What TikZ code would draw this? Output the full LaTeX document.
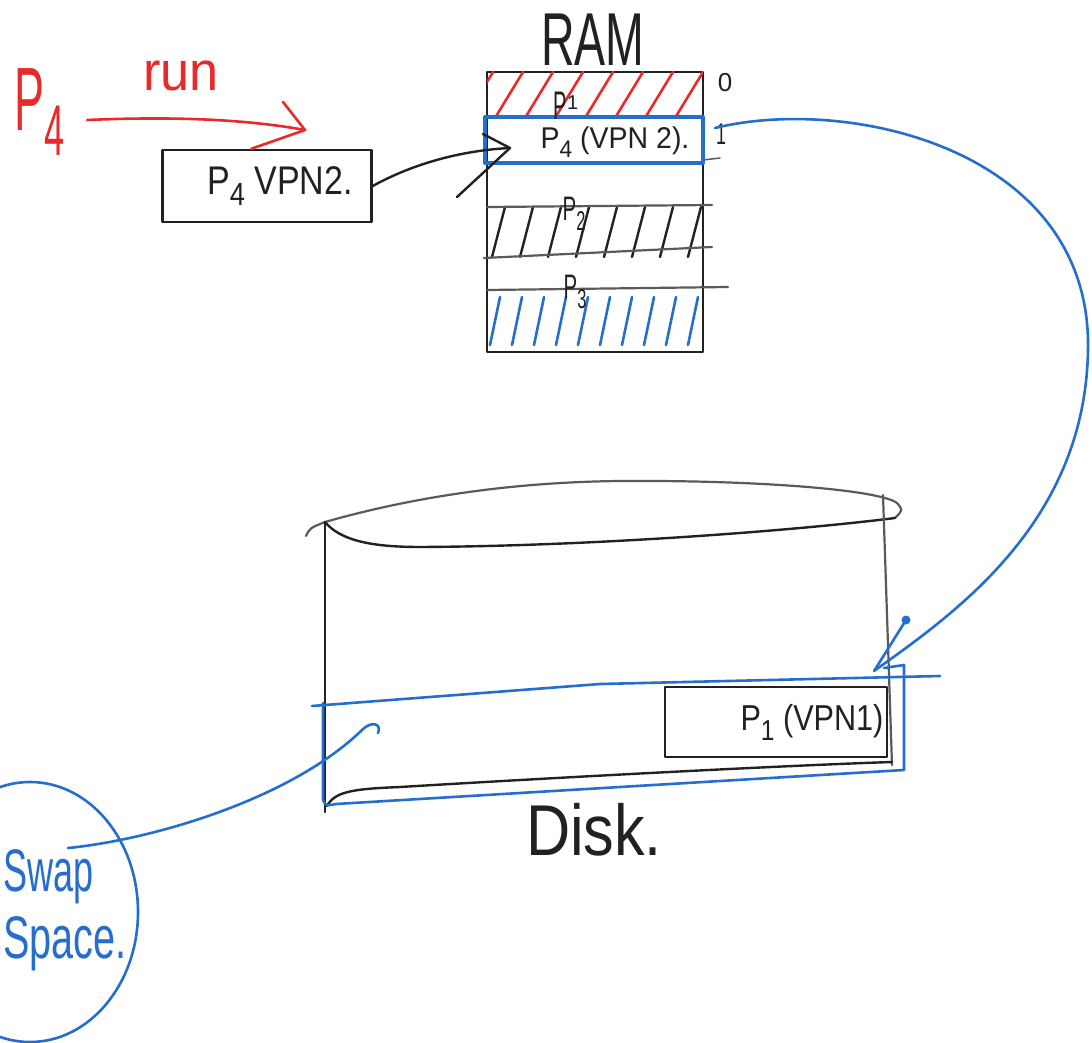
\documentclass[tikz,border=0pt]{standalone}
\usepackage{fontspec}
\setmainfont{Liberation Sans}
\usetikzlibrary{shapes.geometric,calc}
\definecolor{pred}{RGB}{232,42,42}
\definecolor{pblue}{RGB}{38,110,205}
\definecolor{inkc}{RGB}{35,32,32}
\definecolor{pgrey}{RGB}{90,90,90}
\newcommand{\hw}[2]{\scalebox{#1}[1]{#2}}
\newcommand{\lowdig}[1]{\raisebox{-0.28em}{\scalebox{0.8}{#1}}}
\begin{document}
\begin{tikzpicture}[x=1pt,y=-1pt,line cap=round,line join=round,
  ink/.style={draw=inkc,line width=2.4pt},
  greyink/.style={draw=pgrey,line width=2.2pt},
  redink/.style={draw=pred,line width=2.6pt},
  blueink/.style={draw=pblue,line width=2.6pt},
  boxnode/.style={ink,rectangle,inner sep=0pt},
  lbl/.style={text=inkc,inner sep=0pt},
  rlbl/.style={text=pred,inner sep=0pt},
  blbl/.style={text=pblue,inner sep=0pt}]
\useasboundingbox (0,0) rectangle (1092,1043);
\fill[white] (0,0) rectangle (1092,1043);

% ---------- red P4 and run arrow ----------
\node[rlbl,font=\fontsize{90}{90}\selectfont] (p4) at (40,112) {\hw{0.5}{P\lowdig{4}}};
\node[rlbl,font=\fontsize{55}{55}\selectfont] (run) at (181,76) {\hw{0.95}{run}};

% ---------- P4 VPN2 box ----------
\node[boxnode,minimum width=209pt,minimum height=72pt,font=\fontsize{40}{40}\selectfont,text=inkc] (vpn) at (267,186) {\hspace*{26pt}\hw{0.85}{P\lowdig{4} VPN2.}};

\coordinate (rtip) at (305,130);
\draw[redink] ([shift={(22,8)}]p4.east) .. controls (180,116) and (250,120) .. (rtip);
\draw[redink] (283,102) -- (rtip) -- ($(vpn.north west)+(90,0)$);

% ---------- RAM ----------
\node[lbl,font=\fontsize{75}{75}\selectfont] (ramlbl) at (593,40) {\hw{0.62}{RAM}};
\node[boxnode,minimum width=216pt,minimum height=280pt] (ram) at (595,212) {};

% red hatch (row 0)
\begin{scope}
  \clip (487,72) rectangle (703,116);
  \foreach \x in {465,495,...,705} \draw[redink] (\x,118) -- (\x+28,72);
\end{scope}
% black hatch
\begin{scope}
  \clip (487,207) rectangle (703,257);
  \foreach \x in {492,520,...,690} \draw[ink] (\x,257) -- (\x+13,207);
\end{scope}
% blue hatch
\begin{scope}
  \clip (487,296) rectangle (703,347);
  \foreach \x in {490,512,...,700} \draw[blueink] (\x,345) -- (\x+10,297);
\end{scope}

% row lines
\draw[greyink] (487,207) -- (712,205);
\draw[greyink] (484,258) -- (712,247);
\draw[greyink] (487,290) -- (728,287);
\draw[greyink,line width=1.5pt] (703,160) -- (720,158);

% blue row 1
\node[draw=pblue,line width=4pt,rectangle,inner sep=0pt,minimum width=218pt,minimum height=46pt] (r1) at (594,140) {};
\node[lbl,font=\fontsize{30}{30}\selectfont] (r1txt) at (615,142) {\hw{0.95}{P\lowdig{4} (VPN 2).}};
\node[lbl,font=\fontsize{40}{40}\selectfont] (p1old) at (566,106) {\hw{0.5}{P}\raisebox{0.25em}{\scalebox{0.5}{1}}};
\node[lbl,font=\fontsize{34}{34}\selectfont] (p2lbl) at (574,214) {\hw{0.6}{P\lowdig{2}}};
\node[lbl,font=\fontsize{34}{34}\selectfont] (p3lbl) at (575,292) {\hw{0.6}{P\lowdig{3}}};
\node[lbl,font=\fontsize{26}{26}\selectfont] (n0) at (725,83) {0};
\node[lbl,font=\fontsize{30}{30}\selectfont] (n1) at (721,134) {\hw{0.6}{1}};

% black arrow vpn -> row 1
\coordinate (btip) at ([shift={(27,8)}]r1.west);
\draw[ink] (vpn.east) .. controls (420,160) and (470,150) .. (btip);
\draw[ink] (483,134) -- (btip) -- (457,197);

% ---------- Disk ----------
\draw[greyink] (306,536) .. controls (310,528) .. (325,522);
\draw[ink] (325,522) -- (325,812);
\draw[greyink] (325,522) .. controls (420,495) and (520,482) .. (620,481)
   .. controls (760,480) and (880,490) .. (897,503) .. controls (903,510) .. (895,518);
\draw[ink] (325,522) .. controls (340,540) and (370,547) .. (420,547)
   .. controls (600,546) and (800,530) .. (895,518);
\draw[greyink] (883,495) -- (892,765);
\draw[ink] (327,806) .. controls (335,792) and (350,789) .. (400,787)
   .. controls (600,775) and (800,765) .. (892,762);

% swap region (blue)
\draw[blueink] (312,706) -- (600,684) -- (940,676);
\draw[blueink] (323,703) -- (323,800) .. controls (326,806) .. (336,804) -- (904,770) -- (904,665) -- (884,668);

% P1 box
\node[boxnode,minimum width=222pt,minimum height=70pt,font=\fontsize{36}{36}\selectfont,text=inkc] (p1box) at (776,722) {\hspace*{72pt}\hw{0.85}{P\lowdig{1} (VPN1)}};

\node[lbl,font=\fontsize{72}{72}\selectfont] (disklbl) at (594,830) {\hw{0.85}{Disk.}};

% blue curve RAM row 1 -> P1 on disk
\coordinate (p1tip) at ([shift={(-14,-15)}]p1box.north east);
\draw[blueink] ([shift={(10,-12)}]r1.east) .. controls (850,95) and (1092,150) .. (1088,350)
   .. controls (1085,520) and (960,610) .. (p1tip);
\draw[blueink] (p1tip) -- (906,620);
\fill[pblue] (906,620) circle (4.5);

% ---------- Swap space ----------
\node[draw=pblue,line width=2.6pt,ellipse,inner sep=0pt,minimum width=216pt,minimum height=260pt] (swap) at (30,912) {};
\node[blbl,font=\fontsize{60}{67}\selectfont,align=left,anchor=north west] (swaptxt) at (3,849) {\hw{0.6}{Swap}\\\hw{0.66}{Space.}};
\coordinate (swapend) at ([shift={(38,-64)}]swap.center);
\draw[blueink] (swapend) .. controls (150,840) and (290,800) .. (362,730)
   .. controls (372,720) and (382,724) .. (378,733);
\end{tikzpicture}
\end{document}
